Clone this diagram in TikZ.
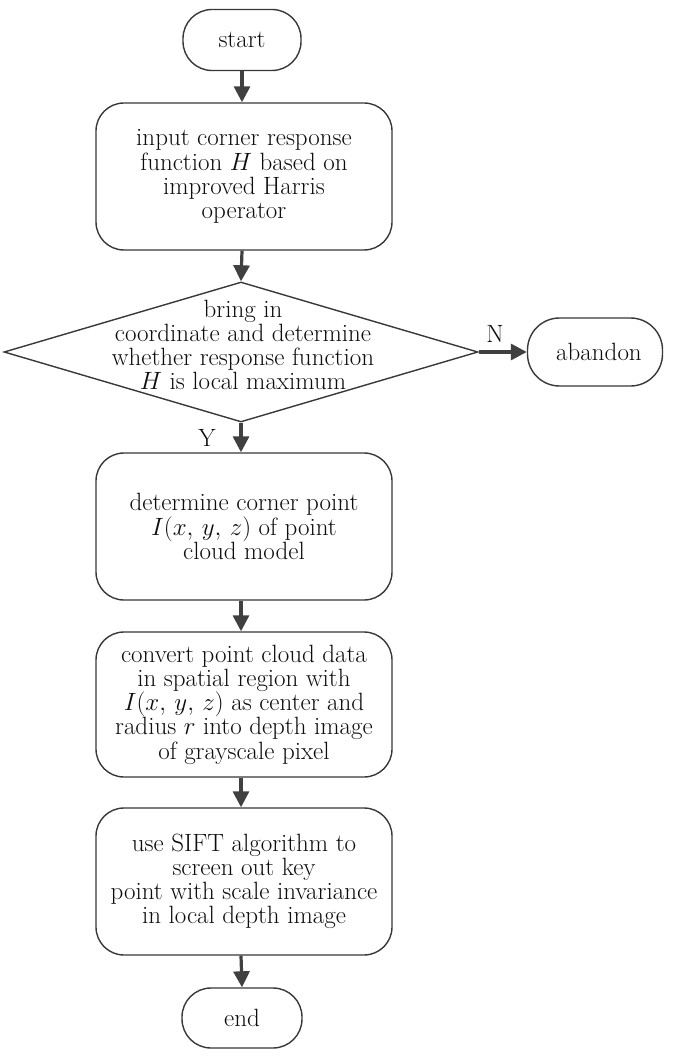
\RequirePackage{fix-cm}
\documentclass[tikz,border=0pt]{standalone}
\usepackage{fontspec}
\usetikzlibrary{arrows.meta,shapes.geometric}
\begin{document}
\begin{tikzpicture}[x=1pt,y=-1pt,
  every node/.style={font=\fontsize{25}{24.2}\selectfont, text=black!95},
  term/.style={draw=black!78, line width=1.4pt, rounded corners=29pt, minimum width=118pt, minimum height=61pt, inner sep=0pt},
  procbox/.style={draw=black!78, line width=1.4pt, rounded corners=28pt, minimum width=296pt, minimum height=147pt, inner sep=0pt, align=center},
  dia/.style={draw=black!78, line width=1.4pt, diamond, minimum width=474pt, minimum height=140pt, inner sep=0pt},
  txt/.style={align=center, inner sep=0pt},
  flow/.style={draw=black!75, line width=3.2pt, -{Triangle[length=16pt,width=16pt]}},
  lbl/.style={inner sep=0pt}
]
\useasboundingbox (0,0) rectangle (672,1056);
\node[term] (start) at (242,40) {start};
\node[procbox] (b1) at (244,176.5) {input corner response\\function $H$ based on\\improved Harris\\operator};
\node[dia] (d) at (241,352) {};
\node[txt] (dt) at (243,345) {bring in\\coordinate and determine\\whether response function\\$H$ is local maximum};
\node[term, minimum width=135pt, minimum height=68pt, rounded corners=32pt] (ab) at (595,352) {\hspace{8pt}abandon};
\node[procbox] (b2) at (244,526.5) {determine corner point\\$I(x,\,y,\,z)$ of point\\cloud model};
\node[procbox, minimum height=145pt] (b3) at (244,704.5) {convert point cloud data\\in spatial region with\\$I(x,\,y,\,z)$ as center and\\radius $r$ into depth image\\of grayscale pixel};
\node[procbox] (b4) at (244,881.5) {use SIFT algorithm to\\screen out key\\point with scale invariance\\in local depth image};
\node[term, minimum width=120pt, minimum height=60pt] (end) at (242,1018) {end};
\node[lbl] (N) at (495,334) {N};
\node[lbl] (Y) at (207,438) {Y};
\draw[flow] (start.south) -- (start.south |- b1.north);
\draw[flow] (start.south |- b1.south) -- (d.north);
\draw[flow] (d.east) -- (ab.west);
\draw[flow] (d.south) -- (d.south |- b2.north);
\draw[flow] (d.south |- b2.south) -- (d.south |- b3.north);
\draw[flow] (d.south |- b3.south) -- (d.south |- b4.north);
\draw[flow] (d.south |- b4.south) -- (end.north);
\end{tikzpicture}
\end{document}
